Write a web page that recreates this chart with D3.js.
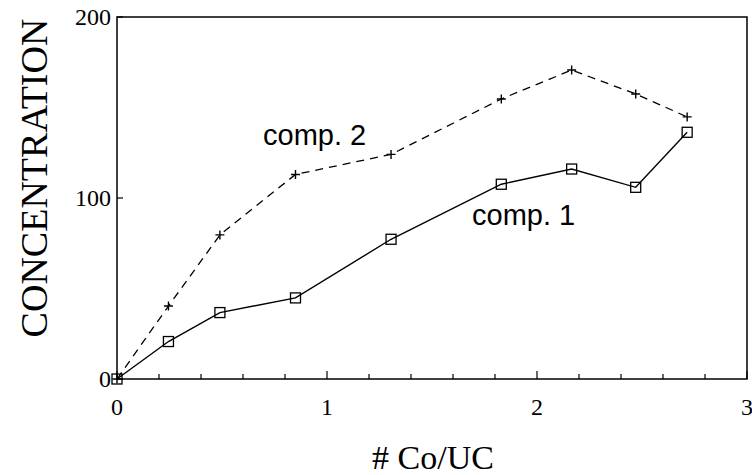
<!DOCTYPE html>
<html>
<head>
<meta charset="utf-8">
<script src="https://cdn.jsdelivr.net/npm/d3@7"></script>
<style>
  body { margin: 0; background: #fff; }
  svg { display: block; }
</style>
</head>
<body>
<svg id="chart" width="752" height="475"></svg>
<script>
// values
const coUC = [0, 0.245, 0.49, 0.85, 1.305, 1.83, 2.165, 2.47, 2.715];
const comp1 = [0, 20.7, 36.7, 44.8, 77.2, 107.6, 116, 105.9, 136.3];
const comp2 = [0, 40.3, 79.6, 113, 124.1, 154.7, 170.7, 157.5, 144.8];
const xTicks = [0, 1, 2, 3];
const yTicks = [0, 100, 200];
const seriesLabels = ["comp. 1", "comp. 2"];

const margin = {top: 17, right: 5, bottom: 96, left: 117}; // plot frame 117..747 x 17..379
const width = 752, height = 475;
const serif = "Liberation Serif, Times New Roman, serif";
const sans = "Liberation Sans, Arial, sans-serif";

const svg = d3.select("#chart");
const x = d3.scaleLinear().domain([0, 3]).range([margin.left, width - margin.right]);
const y = d3.scaleLinear().domain([0, 200]).range([height - margin.bottom, margin.top]);

// frame
svg.append("rect")
  .attr("x", x(0)).attr("y", y(200))
  .attr("width", x(3) - x(0)).attr("height", y(0) - y(200))
  .attr("fill", "none").attr("stroke", "#000").attr("stroke-width", 1.5);

// x ticks point inward, minor every 0.2
let minor = d3.range(0, 3.0001, 0.2);
svg.append("g").selectAll("line")
  .data(minor)
  .join("line")
  .attr("x1", d => x(d)).attr("x2", d => x(d))
  .attr("y1", y(0))
  .attr("y2", d => Math.abs(d - Math.round(d)) < 1e-6 ? y(0) - 8 : y(0) - 5)
  .attr("stroke", "#000").attr("stroke-width", 1.2);

svg.append("g").selectAll("line")
  .data(yTicks)
  .join("line")
  .attr("x1", x(0)).attr("x2", x(0) + 6)
  .attr("y1", d => y(d)).attr("y2", d => y(d))
  .attr("stroke", "#000").attr("stroke-width", 1.2);

// tick labels
svg.append("g").selectAll("text")
  .data(xTicks)
  .join("text")
  .attr("x", d => x(d)).attr("y", y(0) + 36)
  .attr("text-anchor", "middle")
  .attr("font-family", serif)
  .attr("font-size", 24)
  .text(d => d);

svg.append("g").selectAll("text")
  .data(yTicks)
  .join("text")
  .attr("x", x(0) - 6).attr("y", d => y(d) + 8)
  .attr("text-anchor", "end")
  .attr("font-family", serif)
  .attr("font-size", 24)
  .text(d => d);

// axis titles
svg.append("text")
  .attr("x", 433).attr("y", 469)
  .attr("text-anchor", "middle")
  .attr("font-family", serif)
  .attr("font-size", 34)
  .text("# Co/UC");

svg.append("text")
  .attr("transform", "translate(47,178) rotate(-90)")
  .attr("text-anchor", "middle")
  .attr("font-family", serif)
  .attr("font-size", 38)
  .text("CONCENTRATION");

const pts1 = coUC.map((d, i) => [d, comp1[i]]);
const pts2 = coUC.map((d, i) => [d, comp2[i]]);
const line = d3.line().x(d => x(d[0])).y(d => y(d[1]));

svg.append("path")
  .attr("d", line(pts2))
  .attr("fill", "none").attr("stroke", "#000").attr("stroke-width", 1.3)
  .attr("stroke-dasharray", "8,6");

svg.append("path")
  .attr("d", line(pts1))
  .attr("fill", "none").attr("stroke", "#000").attr("stroke-width", 1.4);

// plus markers, comp. 2
svg.append("g").selectAll("path")
  .data(pts2)
  .join("path")
  .attr("d", d => `M${x(d[0]) - 4.5},${y(d[1])}h9M${x(d[0])},${y(d[1]) - 4.5}v9`)
  .attr("stroke", "#000").attr("stroke-width", 1.4);

// open squares, comp. 1
svg.append("g").selectAll("rect")
  .data(pts1)
  .join("rect")
  .attr("x", d => x(d[0]) - 5).attr("y", d => y(d[1]) - 5)
  .attr("width", 10).attr("height", 10)
  .attr("fill", "none").attr("stroke", "#000").attr("stroke-width", 1.3);

// curve labels
svg.append("text")
  .attr("x", 472).attr("y", 225)
  .attr("font-family", sans)
  .attr("font-size", 29)
  .text(seriesLabels[0]);

svg.append("text")
  .attr("x", 263).attr("y", 145)
  .attr("font-family", sans)
  .attr("font-size", 29)
  .text(seriesLabels[1]);
</script>
</body>
</html>
